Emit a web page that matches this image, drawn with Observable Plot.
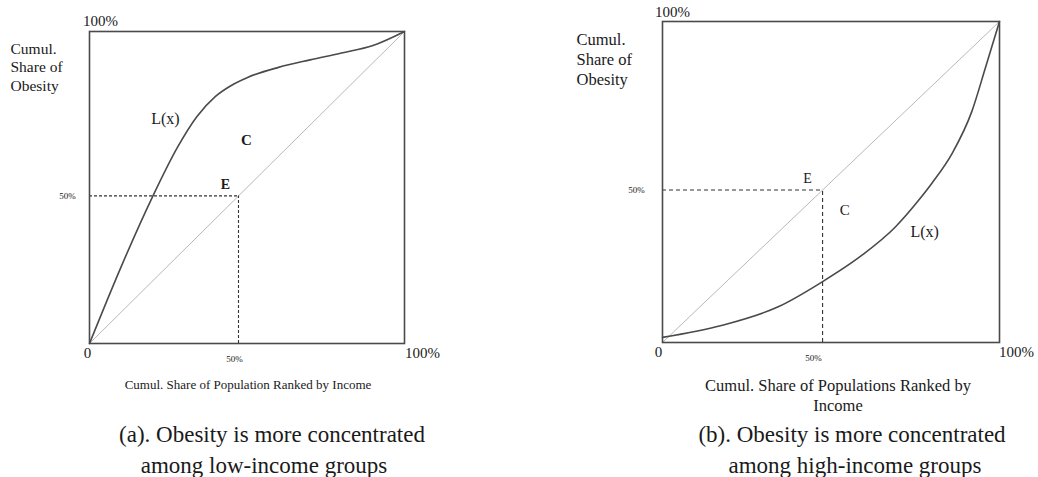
<!DOCTYPE html>
<html>
<head>
<meta charset="utf-8">
<script src="https://cdn.jsdelivr.net/npm/d3@7"></script>
<script src="https://cdn.jsdelivr.net/npm/@observablehq/plot@0.6"></script>
<style>
  html, body { margin: 0; padding: 0; background: #fff; }
  #wrap { position: relative; width: 1038px; height: 477px; overflow: hidden; font-family: "Liberation Serif", "Times New Roman", serif; color: #1a1a1a; }
  .panel { position: absolute; top: 0; }
  .cap { position: absolute; transform: translateX(-50%); white-space: nowrap; font-size: 23px; line-height: 1; }
</style>
</head>
<body>
<div id="wrap"></div>
<script>
// ---- Data ----
// Panel (a): concentration curve, obesity concentrated among low income
const popShareA = [0, 0.1, 0.2, 0.28, 0.34, 0.4, 0.45, 0.5, 0.6, 0.7, 0.8, 0.9, 1];
const obesityShareA = [0, 0.245, 0.47, 0.63, 0.726, 0.792, 0.827, 0.852, 0.885, 0.909, 0.931, 0.955, 1];
// Panel (b): obesity concentrated among high income
const popShareB = [0, 0.178, 0.345, 0.474, 0.592, 0.691, 0.76, 0.8, 0.86, 0.918, 0.958, 1];
const obesityShareB = [0.016, 0.054, 0.112, 0.189, 0.272, 0.36, 0.443, 0.497, 0.59, 0.72, 0.855, 1];
// Equality diagonal
const diagonal = [0, 1];
// Point E on the diagonal (labelled 50%)
const pointE = [0.473, 0.475];
// Text
const tickLabels = ["0", "50%", "100%"];
const yTitle = "Cumul.\nShare of\nObesity";
const xTitles = ["Cumul. Share of Population Ranked by Income", "Cumul. Share of Populations Ranked by\nIncome"];
const curveLabel = "L(x)";
const areaLabel = "C";
const pointLabel = "E";
const captions = [
  ["(a). Obesity is more concentrated", "among low-income groups"],
  ["(b). Obesity is more concentrated", "among high-income groups"]
];

const FONT = "Liberation Serif";

function panel(cfg) {
  const curve = cfg.xs.map((x, i) => ({x, y: cfg.ys[i]}));
  const diag = diagonal.map(v => ({x: v, y: v}));
  const e = cfg.e;
  const one = [0];
  return Plot.plot({
    width: cfg.width,
    height: cfg.height,
    marginLeft: cfg.ml, marginRight: cfg.mr, marginTop: cfg.mt, marginBottom: cfg.mb,
    x: {axis: null, domain: [0, 1]},
    y: {axis: null, domain: [0, 1]},
    style: {fontFamily: FONT, background: "white", color: "#1a1a1a", overflow: "visible"},
    marks: [
      Plot.line(diag, {x: "x", y: "y", stroke: "#b8b8b8", strokeWidth: 1}),
      Plot.ruleY([e], {y: d => d, x1: () => 0, x2: d => d, stroke: "#333", strokeWidth: 1.1, strokeDasharray: cfg.dash}),
      Plot.ruleX([e], {x: d => d, y1: () => 0, y2: d => d, stroke: "#333", strokeWidth: 1.1, strokeDasharray: cfg.dash}),
      Plot.line(curve, {x: "x", y: "y", curve: "monotone-x", stroke: "#4a4a4a", strokeWidth: 1.6}),
      Plot.frame({stroke: "#4a4a4a", strokeWidth: 1.6}),
      // top 100%
      Plot.text(one, {x: () => 0, y: () => 1, text: () => tickLabels[2], dx: cfg.topDx, dy: cfg.topDy, fontSize: 15}),
      // y title
      Plot.text(one, {x: () => 0, y: () => 1, text: () => yTitle, textAnchor: "start", lineAnchor: "middle", dx: cfg.ytDx, dy: cfg.ytDy, fontSize: cfg.ytSize, lineHeight: 1.2}),
      // y 50%
      Plot.text([e], {x: () => 0, y: d => d, text: () => tickLabels[1], dx: cfg.y50Dx, fontSize: 9}),
      // x ticks
      Plot.text(one, {x: () => 0, y: () => 0, text: () => tickLabels[0], dx: cfg.x0Dx, dy: 10, fontSize: 15}),
      Plot.text([e], {x: d => d, y: () => 0, text: () => tickLabels[1], dx: cfg.x50Dx, dy: 16, fontSize: 9}),
      Plot.text(one, {x: () => 1, y: () => 0, text: () => tickLabels[2], dx: cfg.x100Dx, dy: 10, fontSize: 15}),
      // x title
      Plot.text(one, {x: () => 0.5, y: () => 0, text: () => cfg.xTitle, dx: cfg.xtDx, dy: cfg.xtDy, fontSize: cfg.xtSize, lineHeight: 1.2, lineAnchor: "middle"}),
      // annotations
      Plot.text(one, {x: () => cfg.lx, y: () => cfg.ly, text: () => curveLabel, fontSize: 16}),
      Plot.text(one, {x: () => cfg.cx, y: () => cfg.cy, text: () => areaLabel, fontSize: 15, fontWeight: cfg.bold ? "bold" : "normal"}),
      Plot.text([e], {x: d => d, y: d => d, text: () => pointLabel, dx: cfg.eDx, dy: cfg.eDy, fontSize: 14, fontWeight: cfg.bold ? "bold" : "normal"})
    ]
  });
}

const wrap = document.getElementById("wrap");

const a = panel({
  xs: popShareA, ys: obesityShareA, e: pointE[0],
  width: 450, height: 395, ml: 89, mr: 46, mt: 31, mb: 52,
  dash: "3,2", bold: true,
  topDx: 11, topDy: -10, ytDx: -79, ytDy: 35, ytSize: 15.5, y50Dx: -22,
  x0Dx: -2, x50Dx: -4, x100Dx: 18,
  xTitle: xTitles[0], xtDx: 1, xtDy: 40, xtSize: 13,
  lx: 0.241, ly: 0.721, cx: 0.498, cy: 0.651, eDx: -13, eDy: -11
});
a.classList.add("panel");
a.style.left = "0px";
wrap.appendChild(a);

const b = panel({
  xs: popShareB, ys: obesityShareB, e: pointE[1],
  width: 519, height: 420, ml: 143, mr: 39, mt: 21, mb: 78,
  dash: "4,3", bold: false,
  topDx: 10, topDy: -9, ytDx: -86, ytDy: 37, ytSize: 16.5, y50Dx: -26,
  x0Dx: -4, x50Dx: -9, x100Dx: 17,
  xTitle: xTitles[1], xtDx: 7, xtDy: 52, xtSize: 16.5,
  lx: 0.778, ly: 0.346, cx: 0.541, cy: 0.411, eDx: -15, eDy: -12
});
b.classList.add("panel");
b.style.left = "519px";
wrap.appendChild(b);

// captions
const capPos = [[[272, 423], [264, 454]], [[852, 423], [855, 454]]];
captions.forEach((lines, i) => {
  lines.forEach((t, j) => {
    const d = document.createElement("div");
    d.className = "cap";
    d.textContent = t;
    d.style.left = capPos[i][j][0] + "px";
    d.style.top = capPos[i][j][1] + "px";
    wrap.appendChild(d);
  });
});
</script>
</body>
</html>
